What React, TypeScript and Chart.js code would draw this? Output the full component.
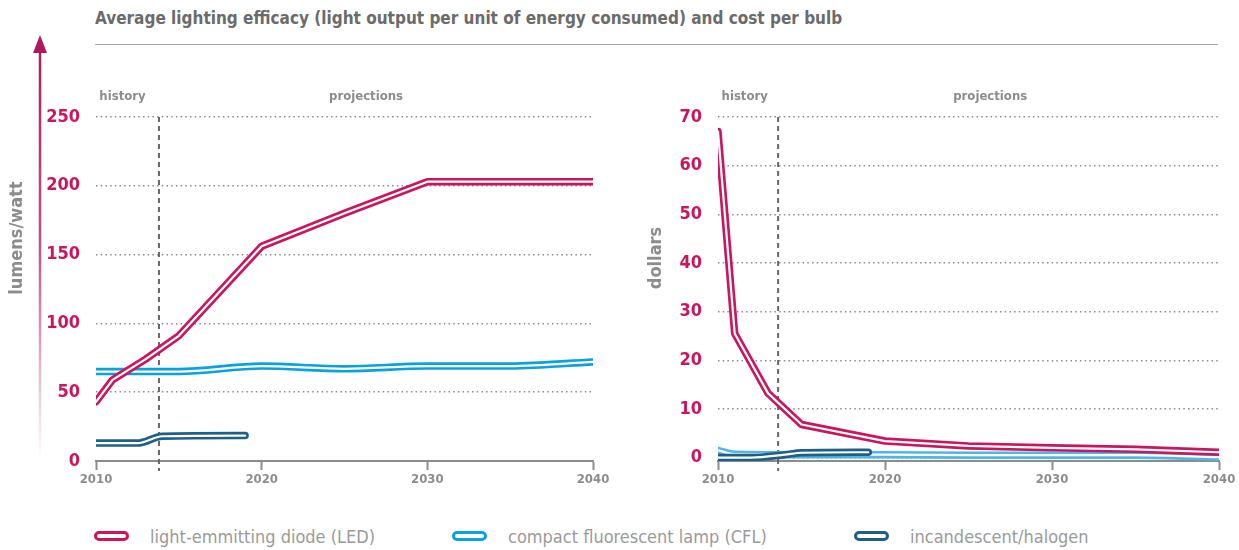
import React, { useEffect, useRef } from "react";
import { Chart, registerables } from "chart.js";
Chart.register(...registerables);

// ---------- data ----------
const xTicks = [2010, 2020, 2030, 2040];
const effTicks = [0, 50, 100, 150, 200, 250];
const costTicks = [0, 10, 20, 30, 40, 50, 60, 70];
const seriesNames = ["light-emmitting diode (LED)", "compact fluorescent lamp (CFL)", "incandescent/halogen"];

const effYearsLED = [2010, 2011, 2013, 2015, 2020, 2025, 2030, 2035, 2040];
const effLED = [43, 59, 74, 91, 156, 180, 203, 203, 203];
const effYearsCFL = [2010, 2015, 2020, 2025, 2030, 2035, 2040];
const effCFL = [65, 65, 69, 67, 69, 69, 72];
const effYearsINC = [2010, 2012.5, 2014, 2019];
const effINC = [13, 13, 18, 18.5];

const costYearsLED = [2010, 2011, 2013, 2015, 2020, 2025, 2030, 2035, 2040];
const costLED = [67, 25.5, 13.2, 6.8, 3.4, 2.4, 2.0, 1.7, 1.1];
const costYearsCFL = [2010, 2011, 2015, 2020, 2025, 2030, 2035, 2040];
const costCFL = [1.5, 0.7, 0.6, 0.6, 0.5, 0.5, 0.5, 0.1];
const costYearsINC = [2010, 2012, 2014, 2015, 2019];
const costINC = [0, 0, 0.6, 1.0, 1.1];

const historyEndEff = 2013.8;
const historyEndCost = 2013.6;

// ---------- styles ----------
const FONT = "'Liberation Sans Narrow', 'DejaVu Sans Condensed', 'Roboto Condensed', 'DejaVu Sans', sans-serif";
const LED_COLOR = "#c8175d";
const CFL_COLOR = "#0ba1dd";
const CFL_COLOR_R = "#4fb6e6";
const INC_COLOR = "#1f5f85";
const GRAY = "#8c8c8c";
const TICK_RED = "#c8175d";

function pairs(xs: number[], ys: number[]) {
  return xs.map((x, i) => ({ x, y: ys[i] }));
}

function doubleLine(data: any[], color: string, smooth: boolean) {
  const common: any = {
    data,
    pointRadius: 0,
    borderCapStyle: "round",
    borderJoinStyle: "round",
    fill: false,
    tension: 0,
    cubicInterpolationMode: smooth ? "monotone" : "default",
  };
  return [
    { ...common, borderColor: "#ffffff", borderWidth: 2.2 },
    { ...common, borderColor: color, borderWidth: 7.5 },
  ];
}

const decorPlugin = {
  id: "decor",
  beforeDatasetsDraw(chart: any, _args: any, opts: any) {
    const { ctx, chartArea, scales } = chart;
    const x = scales.x.getPixelForValue(opts.split);
    ctx.save();
    ctx.strokeStyle = "#666666";
    ctx.lineWidth = 2;
    ctx.setLineDash([5, 4]);
    ctx.beginPath();
    ctx.moveTo(x, chartArea.top);
    ctx.lineTo(x, chartArea.bottom + 10);
    ctx.stroke();
    ctx.setLineDash([]);
    ctx.fillStyle = GRAY;
    ctx.textAlign = "center";
    ctx.textBaseline = "middle";
    ctx.font = `bold 13px ${FONT}`;
    ctx.fillText("history", scales.x.getPixelForValue(2011.6), 97);
    ctx.fillText("projections", scales.x.getPixelForValue(2026.3), 97);
    ctx.save();
    ctx.translate(opts.labelX, opts.labelY);
    ctx.rotate(-Math.PI / 2);
    ctx.font = `bold 18px ${FONT}`;
    ctx.fillText(opts.yLabel, 0, 0);
    ctx.restore();
    if (opts.arrow) {
      const ax = 40;
      const g = ctx.createLinearGradient(0, 40, 0, 458);
      g.addColorStop(0, "rgba(176,24,92,1)");
      g.addColorStop(0.5, "rgba(176,24,92,0.75)");
      g.addColorStop(1, "rgba(176,24,92,0)");
      ctx.strokeStyle = g;
      ctx.lineWidth = 2.5;
      ctx.beginPath();
      ctx.moveTo(ax, 50);
      ctx.lineTo(ax, 458);
      ctx.stroke();
      ctx.fillStyle = "rgb(176,24,92)";
      ctx.beginPath();
      ctx.moveTo(ax, 35);
      ctx.lineTo(ax - 7, 53);
      ctx.lineTo(ax + 7, 53);
      ctx.closePath();
      ctx.fill();
    }
    ctx.restore();
  },
};

function makeConfig(kind: "eff" | "cost"): any {
  const isEff = kind === "eff";
  const datasets = isEff
    ? [
        ...doubleLine(pairs(effYearsLED, effLED), LED_COLOR, false),
        ...doubleLine(pairs(effYearsINC, effINC), INC_COLOR, true),
        ...doubleLine(pairs(effYearsCFL, effCFL), CFL_COLOR, true),
      ]
    : [
        ...doubleLine(pairs(costYearsLED, costLED), LED_COLOR, false),
        ...doubleLine(pairs(costYearsINC, costINC), INC_COLOR, true),
        ...doubleLine(pairs(costYearsCFL, costCFL), CFL_COLOR_R, true),
      ];
  const yTicks = isEff ? effTicks : costTicks;
  return {
    type: "line",
    data: { datasets },
    options: {
      animation: false,
      responsive: false,
      events: [],
      layout: { padding: { top: 117, right: isEff ? 27 : 20, bottom: 0, left: 0 } },
      plugins: {
        legend: { display: false },
        tooltip: { enabled: false },
        decor: isEff
          ? { split: historyEndEff, yLabel: "lumens/watt", labelX: 17, labelY: 238, arrow: true }
          : { split: historyEndCost, yLabel: "dollars", labelX: 36, labelY: 258, arrow: false },
      },
      scales: {
        x: {
          type: "linear",
          min: xTicks[0],
          max: xTicks[xTicks.length - 1],
          afterBuildTicks: (s: any) => {
            s.ticks = xTicks.map((v) => ({ value: v }));
          },
          afterFit: (s: any) => {
            s.height = 39;
          },
          grid: {
            display: true,
            drawOnChartArea: false,
            drawTicks: true,
            tickLength: 9,
            tickWidth: 2,
            tickColor: GRAY,
          },
          border: { display: true, color: GRAY, width: 2 },
          ticks: {
            color: GRAY,
            padding: 2,
            maxRotation: 0,
            font: { family: FONT, weight: "bold", size: 13 },
            callback: (v: any) => String(v),
          },
        },
        y: {
          type: "linear",
          min: isEff ? 0 : -0.7,
          max: yTicks[yTicks.length - 1],
          afterBuildTicks: (s: any) => {
            s.ticks = yTicks.map((v) => ({ value: v }));
          },
          afterFit: (s: any) => {
            s.width = isEff ? 96 : 98;
          },
          grid: {
            display: true,
            drawTicks: false,
            color: "#8a8a8a",
            lineWidth: 1.5,
          },
          border: { display: false, dash: [1.5, 3.2] },
          ticks: {
            color: TICK_RED,
            padding: 16,
            font: { family: FONT, weight: "bold", size: 18 },
            callback: (v: any) => String(v),
          },
        },
      },
    },
    plugins: [decorPlugin],
  };
}

function ChartCanvas({ kind, left, width }: { kind: "eff" | "cost"; left: number; width: number }) {
  const ref = useRef<HTMLCanvasElement | null>(null);
  useEffect(() => {
    if (!ref.current) return;
    const chart = new Chart(ref.current, makeConfig(kind));
    return () => chart.destroy();
  }, [kind]);
  return (
    <canvas
      ref={ref}
      width={width}
      height={500}
      style={{ position: "absolute", left, top: 0, width, height: 500 }}
    />
  );
}

const legendColors = [LED_COLOR, CFL_COLOR, INC_COLOR];
const legendLefts = [94, 452, 854];

export default function App() {
  useEffect(() => {
    document.body.style.margin = "0";
  }, []);
  return (
    <div
      style={{
        position: "absolute",
        left: 0,
        top: 0,
        width: 1239,
        height: 550,
        background: "#ffffff",
        overflow: "hidden",
        fontFamily: FONT,
      }}
    >
      <div
        style={{
          position: "absolute",
          left: 95,
          top: 7,
          fontSize: 17,
          fontWeight: "bold",
          color: "#6b6b6b",
          whiteSpace: "nowrap",
          lineHeight: "22px",
        }}
      >
        Average lighting efficacy (light output per unit of energy consumed) and cost per bulb
      </div>
      <div
        style={{
          position: "absolute",
          left: 95,
          top: 44,
          width: 1123,
          height: 0,
          borderTop: "1.5px solid #a6a6a6",
        }}
      />
      <ChartCanvas kind="eff" left={0} width={620} />
      <ChartCanvas kind="cost" left={620} width={619} />
      {seriesNames.map((name, i) => (
        <div
          key={name}
          style={{
            position: "absolute",
            left: legendLefts[i],
            top: 525,
            height: 22,
            display: "flex",
            alignItems: "center",
            whiteSpace: "nowrap",
          }}
        >
          <div
            style={{
              width: 29,
              height: 4,
              border: `3.5px solid ${legendColors[i]}`,
              borderRadius: 6,
              background: "#ffffff",
              marginRight: 21,
            }}
          />
          <span style={{ fontSize: 18, color: "#9a9a9a", fontWeight: 400 }}>{name}</span>
        </div>
      ))}
    </div>
  );
}
